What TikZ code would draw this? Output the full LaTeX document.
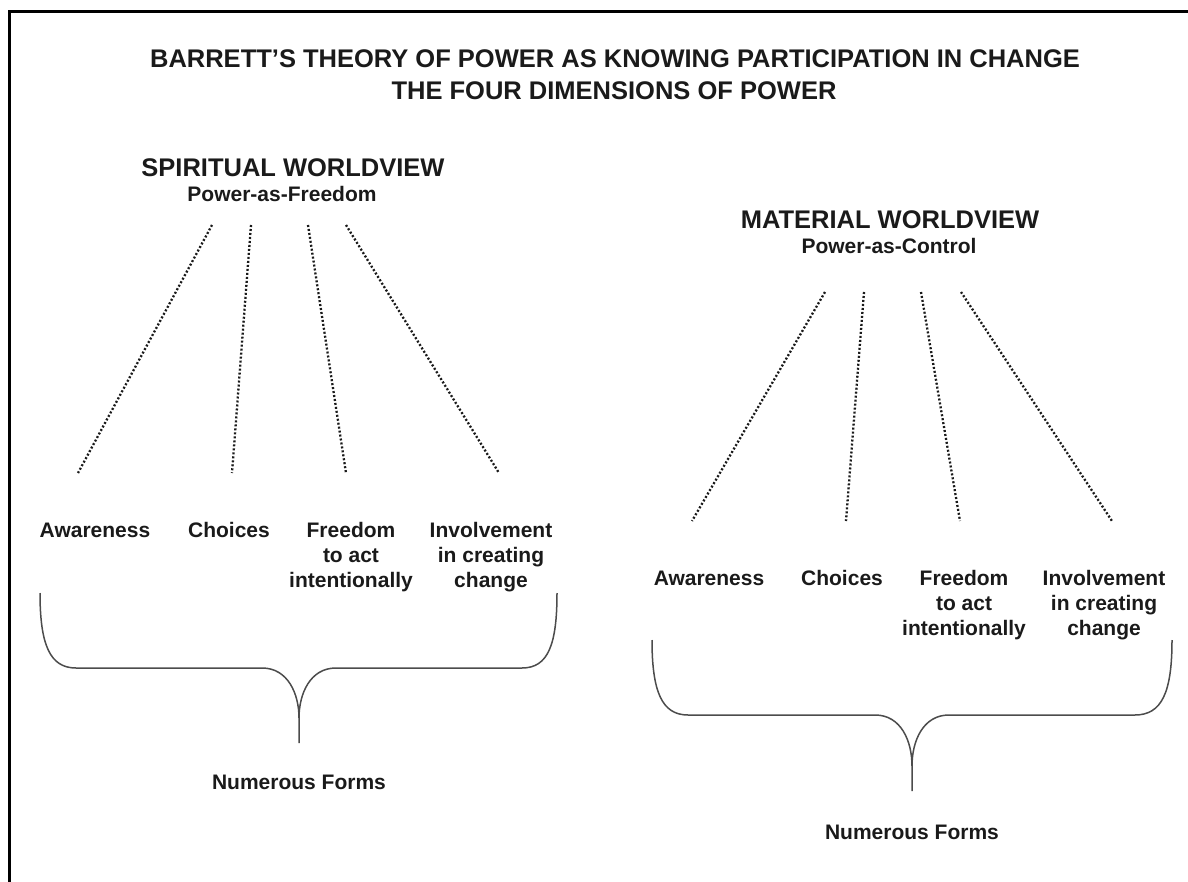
\documentclass[tikz,border=0pt]{standalone}
\usepackage{fontspec}
\setmainfont{Liberation Sans}
\definecolor{ink}{HTML}{1A1A1A}
\begin{document}
\begin{tikzpicture}[x=1pt,y=-1pt,
  big/.style={font=\bfseries\fontsize{25.5}{30}\selectfont, text=ink, inner sep=0pt, anchor=north},
  sub/.style={font=\bfseries\fontsize{21}{25}\selectfont, text=ink, inner sep=0pt, anchor=north},
  lbl/.style={font=\bfseries\fontsize{21}{25}\selectfont, text=ink, inner sep=0pt, anchor=north, align=center},
  dots/.style={line width=2.3pt, dash pattern=on 2pt off 2pt, draw=ink},
  bracestyle/.style={line width=1.5pt, draw=black!70, line join=round},
  frame/.style={line width=3pt, draw=black}]
\useasboundingbox (0,0) rectangle (1188,882);
% frame
\coordinate (fbl) at (9,882);
\coordinate (ftl) at (9,12);
\coordinate (ftr) at (1188,12);
\draw[frame] (fbl) -- (ftl) -- (ftr);
% titles
\node[big] (title1) at (615,49) {BARRETT’S THEORY OF POWER AS KNOWING PARTICIPATION IN CHANGE};
\node[big] (title2) at (614,81) {THE FOUR DIMENSIONS OF POWER};
% ---------------- spiritual ----------------
\node[big] (sw) at (293,158) {SPIRITUAL WORLDVIEW};
\node[sub] (swsub) at (282,186) {Power-as-Freedom};
\coordinate (s1t) at (212,225); \coordinate (s1b) at (78,473);
\coordinate (s2t) at (251,225); \coordinate (s2b) at (232,473);
\coordinate (s3t) at (308,225); \coordinate (s3b) at (346,473);
\coordinate (s4t) at (346,225); \coordinate (s4b) at (499,473);
\draw[dots] (s1t) -- (s1b);
\draw[dots] (s2t) -- (s2b);
\draw[dots] (s3t) -- (s3b);
\draw[dots] (s4t) -- (s4b);
\node[lbl] (sa) at (95,520) {\rule{0pt}{17pt}Awareness};
\node[lbl] (sc) at (229,520) {\rule{0pt}{17pt}Choices};
\node[lbl] (sf) at (351,520) {\rule{0pt}{17pt}Freedom\\to act\\intentionally};
\node[lbl] (si) at (491,520) {\rule{0pt}{17pt}Involvement\\in creating\\change};
\draw[bracestyle] (40,593) .. controls (40,645) and (50,668) .. (76,668) -- (262,668)
   .. controls (288,668) and (299,694) .. (299,718) -- (299,743);
\draw[bracestyle] (299,718) .. controls (299,694) and (310,668) .. (336,668) -- (522,668)
   .. controls (548,668) and (557,645) .. (557,593);
\node[lbl] (snf) at (299,772) {\rule{0pt}{17pt}Numerous Forms};
% ---------------- material ----------------
\node[big] (mw) at (890,210) {MATERIAL WORLDVIEW};
\node[sub] (mwsub) at (889,238) {Power-as-Control};
\coordinate (m1t) at (825,292); \coordinate (m1b) at (692,521);
\coordinate (m2t) at (864,292); \coordinate (m2b) at (846,521);
\coordinate (m3t) at (921,292); \coordinate (m3b) at (960,521);
\coordinate (m4t) at (961,292); \coordinate (m4b) at (1112,521);
\draw[dots] (m1t) -- (m1b);
\draw[dots] (m2t) -- (m2b);
\draw[dots] (m3t) -- (m3b);
\draw[dots] (m4t) -- (m4b);
\node[lbl] (ma) at (709,568) {\rule{0pt}{17pt}Awareness};
\node[lbl] (mc) at (842,568) {\rule{0pt}{17pt}Choices};
\node[lbl] (mf) at (964,568) {\rule{0pt}{17pt}Freedom\\to act\\intentionally};
\node[lbl] (mi) at (1104,568) {\rule{0pt}{17pt}Involvement\\in creating\\change};
\draw[bracestyle] (652,640) .. controls (652,692) and (662,715) .. (688,715) -- (875,715)
   .. controls (901,715) and (912,741) .. (912,766) -- (912,791);
\draw[bracestyle] (912,766) .. controls (912,741) and (923,715) .. (949,715) -- (1135,715)
   .. controls (1162,715) and (1172,692) .. (1172,640);
\node[lbl] (mnf) at (912,822) {\rule{0pt}{17pt}Numerous Forms};
\end{tikzpicture}
\end{document}
